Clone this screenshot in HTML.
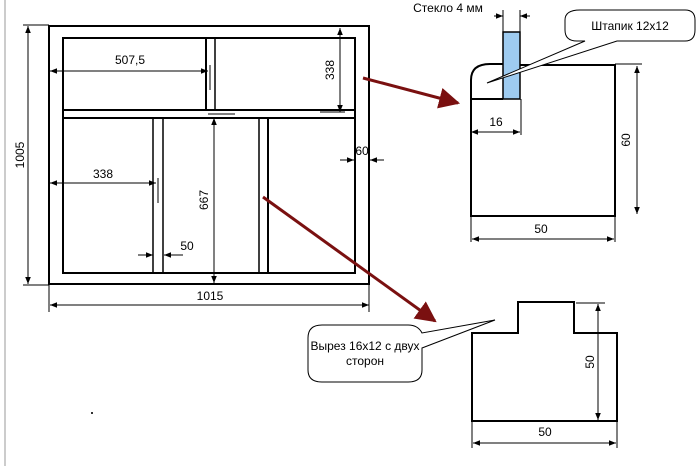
<!DOCTYPE html>
<html><head><meta charset="utf-8"><style>
body{margin:0;background:#fff;}
svg{display:block;font-family:"Liberation Sans",sans-serif;}
</style></head><body>
<svg width="700" height="466" viewBox="0 0 700 466" xmlns="http://www.w3.org/2000/svg">
<defs>
<marker id="a" viewBox="0 0 10 10" refX="10" refY="5" markerWidth="7" markerHeight="7" orient="auto-start-reverse"><path d="M0,1 L10,5 L0,9 z" fill="#000"/></marker>
<marker id="r" viewBox="0 0 10 10" refX="9" refY="5" markerWidth="7" markerHeight="7" orient="auto"><path d="M0,0 L10,5 L0,10 z" fill="#7a1010"/></marker>
</defs>
<line x1="5" y1="0" x2="5" y2="466" stroke="#ccc" stroke-width="2"/>
<rect x="91" y="412" width="2" height="2" fill="#333"/>
<g stroke="#000" fill="none">
<rect x="49" y="26" width="320" height="258" stroke-width="2"/>
<rect x="63" y="38" width="292" height="235" stroke-width="2"/>
<line x1="63" y1="110" x2="355" y2="110" stroke-width="2"/>
<line x1="63" y1="118" x2="355" y2="118" stroke-width="2"/>
<line x1="206" y1="38" x2="206" y2="110" stroke-width="2"/>
<line x1="215" y1="38" x2="215" y2="110" stroke-width="1.5"/>
<line x1="153" y1="118" x2="153" y2="273" stroke-width="1.5"/>
<line x1="163" y1="118" x2="163" y2="273" stroke-width="1.5"/>
<line x1="259" y1="118" x2="259" y2="273" stroke-width="1.5"/>
<line x1="268" y1="118" x2="268" y2="273" stroke-width="2"/>
<line x1="23" y1="25" x2="49" y2="25" stroke-width="1"/>
<line x1="23" y1="285" x2="49" y2="285" stroke-width="1"/>
<line x1="28" y1="26" x2="28" y2="284" stroke-width="1" marker-start="url(#a)" marker-end="url(#a)"/>
<line x1="49" y1="284" x2="49" y2="312" stroke-width="1"/>
<line x1="369" y1="284" x2="369" y2="312" stroke-width="1"/>
<line x1="50" y1="305" x2="369" y2="305" stroke-width="1" marker-start="url(#a)" marker-end="url(#a)"/>
<line x1="50" y1="71" x2="208" y2="71" stroke-width="1" marker-start="url(#a)" marker-end="url(#a)"/>
<line x1="210" y1="65" x2="210" y2="90" stroke-width="1"/>
<line x1="340" y1="28" x2="340" y2="112" stroke-width="1" marker-start="url(#a)" marker-end="url(#a)"/>
<line x1="320" y1="112" x2="345" y2="112" stroke-width="1"/>
<line x1="208" y1="114" x2="235" y2="114" stroke-width="1"/>
<line x1="50" y1="183" x2="156" y2="183" stroke-width="1" marker-start="url(#a)" marker-end="url(#a)"/>
<line x1="158" y1="178" x2="158" y2="203" stroke-width="1"/>
<line x1="214" y1="118" x2="214" y2="283" stroke-width="1" marker-start="url(#a)" marker-end="url(#a)"/>
<line x1="138" y1="255" x2="153" y2="255" stroke-width="1" marker-end="url(#a)"/>
<line x1="183" y1="255" x2="164" y2="255" stroke-width="1" marker-end="url(#a)"/>
<line x1="340" y1="160" x2="354" y2="160" stroke-width="1" marker-end="url(#a)"/>
<line x1="384" y1="160" x2="370" y2="160" stroke-width="1" marker-end="url(#a)"/>
</g>
<g font-size="12" fill="#000">
<text x="130" y="64" text-anchor="middle">507,5</text>
<text x="103" y="178" text-anchor="middle">338</text>
<text x="187" y="250" text-anchor="middle">50</text>
<text x="210" y="300" text-anchor="middle">1015</text>
<text x="362" y="155" text-anchor="middle">60</text>
<text transform="translate(24,155) rotate(-90)" text-anchor="middle">1005</text>
<text transform="translate(334,70) rotate(-90)" text-anchor="middle">338</text>
<text transform="translate(208,200) rotate(-90)" text-anchor="middle">667</text>
</g>
<line x1="363" y1="78" x2="458" y2="103" stroke="#7a1010" stroke-width="3" marker-end="url(#r)"/>
<line x1="263" y1="197" x2="435" y2="321" stroke="#7a1010" stroke-width="3" marker-end="url(#r)"/>
<g stroke="#000" fill="none">
<rect x="503" y="32" width="17" height="67" fill="#9ecbf0" stroke-width="1.5"/>
<line x1="503" y1="10" x2="503" y2="32" stroke-width="1"/>
<line x1="520" y1="10" x2="520" y2="32" stroke-width="1"/>
<line x1="494" y1="16" x2="503" y2="16" stroke-width="1" marker-end="url(#a)"/>
<line x1="530" y1="16" x2="520" y2="16" stroke-width="1" marker-end="url(#a)"/>
<path d="M471,99 L471,80 Q471,64 490,64 L503,64" stroke-width="2"/>
<line x1="471" y1="99" x2="503" y2="99" stroke-width="2"/>
<path d="M520,65 L615,65 L615,216 L471,216 L471,99" stroke-width="2"/>
<line x1="521" y1="99" x2="521" y2="135" stroke-width="1"/>
<line x1="471" y1="132" x2="520" y2="132" stroke-width="1" marker-start="url(#a)" marker-end="url(#a)"/>
<line x1="615" y1="64" x2="642" y2="64" stroke-width="1"/>
<line x1="637" y1="66" x2="637" y2="214" stroke-width="1" marker-start="url(#a)" marker-end="url(#a)"/>
<line x1="471" y1="216" x2="471" y2="242" stroke-width="1"/>
<line x1="615" y1="216" x2="615" y2="242" stroke-width="1"/>
<line x1="472" y1="239" x2="614" y2="239" stroke-width="1" marker-start="url(#a)" marker-end="url(#a)"/>
<path d="M577,41 Q565,41 565,30 L565,20 Q565,10 580,10 L685,10 Q695,10 695,20 L695,30 Q695,41 685,41 L617,41 L487,83 L585,41 Z" fill="#fff" stroke-width="1"/>
</g>
<g font-size="12">
<text x="448" y="12" text-anchor="middle">Стекло 4 мм</text>
<text x="630" y="30" text-anchor="middle">Штапик 12x12</text>
<text x="496" y="126" text-anchor="middle">16</text>
<text x="541" y="233" text-anchor="middle">50</text>
<text transform="translate(630,140) rotate(-90)" text-anchor="middle">60</text>
</g>
<g stroke="#000" fill="none">
<path d="M472,333 L518,333 L518,302 L574,302 L574,333 L617,333 L617,421 L472,421 Z" stroke-width="2"/>
<line x1="576" y1="303" x2="605" y2="303" stroke-width="1"/>
<line x1="598" y1="304" x2="598" y2="420" stroke-width="1" marker-start="url(#a)" marker-end="url(#a)"/>
<line x1="472" y1="421" x2="472" y2="448" stroke-width="1"/>
<line x1="617" y1="421" x2="617" y2="448" stroke-width="1"/>
<line x1="473" y1="443" x2="616" y2="443" stroke-width="1" marker-start="url(#a)" marker-end="url(#a)"/>
<path d="M422,348 L422,370 Q422,382 408,382 L322,382 Q308,382 308,370 L308,338 Q308,325 322,325 L408,325 Q418,325 422,333 L495,320 L422,348 Z" fill="#fff" stroke-width="1"/>
</g>
<g font-size="12">
<text x="365" y="350" text-anchor="middle">Вырез 16x12 с двух</text>
<text x="365" y="365" text-anchor="middle">сторон</text>
<text x="545" y="436" text-anchor="middle">50</text>
<text transform="translate(594,362) rotate(-90)" text-anchor="middle">50</text>
</g>
</svg>
</body></html>
